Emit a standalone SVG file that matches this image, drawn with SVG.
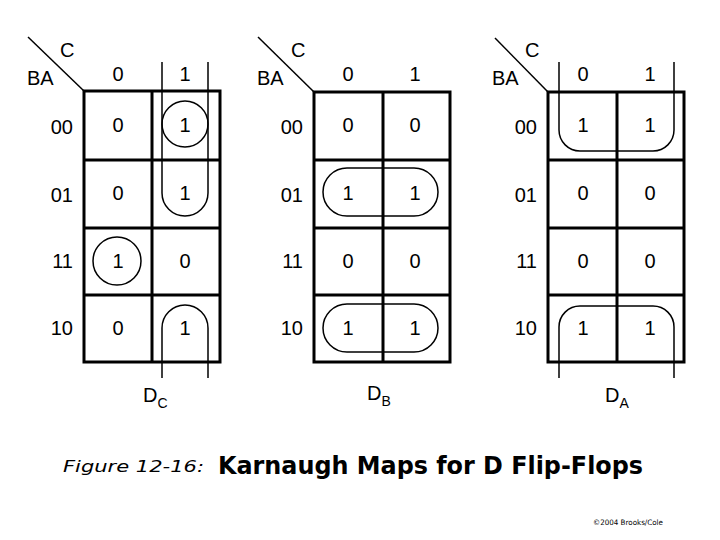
<svg xmlns="http://www.w3.org/2000/svg" width="720" height="540" viewBox="0 0 720 540">
<style>
.t{font-family:"Liberation Sans",Arial,sans-serif;font-size:20px;fill:#000}
.m{text-anchor:middle}
.r{text-anchor:end}
.sub{font-size:14px}
.grid{fill:none;stroke:#000;stroke-width:3}
.loop{fill:none;stroke:#000;stroke-width:1.5}
.diag{stroke:#000;stroke-width:1.5}
</style>
<rect width="720" height="540" fill="#fff"/>

<g id="map-DC">
<line class="diag" x1="28" y1="37" x2="84" y2="91"/>
<text class="t" x="60" y="57">C</text>
<text class="t" x="27" y="85">BA</text>
<text class="t m" x="118" y="81">0</text>
<text class="t m" x="185" y="81">1</text>
<text class="t r" x="73" y="134">00</text>
<text class="t r" x="73" y="202">01</text>
<text class="t r" x="73" y="268">11</text>
<text class="t r" x="73" y="335">10</text>
<rect class="grid" x="84" y="91" width="136" height="271"/>
<line class="grid" x1="152" y1="91" x2="152" y2="362"/>
<line class="grid" x1="84" y1="160" x2="220" y2="160"/>
<line class="grid" x1="84" y1="228" x2="220" y2="228"/>
<line class="grid" x1="84" y1="295" x2="220" y2="295"/>
<text class="t m" x="118" y="132">0</text><text class="t m" x="185" y="132">1</text>
<text class="t m" x="118" y="200">0</text><text class="t m" x="185" y="200">1</text>
<text class="t m" x="118" y="268">1</text><text class="t m" x="185" y="268">0</text>
<text class="t m" x="118" y="335">0</text><text class="t m" x="185" y="335">1</text>
<text class="t" x="143" y="402">D<tspan class="sub" dy="6">C</tspan></text>
</g>

<g id="map-DB">
<line class="diag" x1="258" y1="37" x2="314" y2="92"/>
<text class="t" x="291" y="57">C</text>
<text class="t" x="257" y="85">BA</text>
<text class="t m" x="348" y="81">0</text>
<text class="t m" x="415" y="81">1</text>
<text class="t r" x="303" y="134">00</text>
<text class="t r" x="303" y="202">01</text>
<text class="t r" x="303" y="268">11</text>
<text class="t r" x="303" y="335">10</text>
<rect class="grid" x="314" y="92" width="136" height="270"/>
<line class="grid" x1="383" y1="92" x2="383" y2="362"/>
<line class="grid" x1="314" y1="160" x2="450" y2="160"/>
<line class="grid" x1="314" y1="228" x2="450" y2="228"/>
<line class="grid" x1="314" y1="295" x2="450" y2="295"/>
<text class="t m" x="348" y="132">0</text><text class="t m" x="415" y="132">0</text>
<text class="t m" x="348" y="200">1</text><text class="t m" x="415" y="200">1</text>
<text class="t m" x="348" y="268">0</text><text class="t m" x="415" y="268">0</text>
<text class="t m" x="348" y="335">1</text><text class="t m" x="415" y="335">1</text>
<text class="t" x="367" y="400">D<tspan class="sub" dy="6">B</tspan></text>
</g>

<g id="map-DA">
<line class="diag" x1="495" y1="38" x2="548" y2="92"/>
<text class="t" x="525" y="57">C</text>
<text class="t" x="492" y="85">BA</text>
<text class="t m" x="583" y="81">0</text>
<text class="t m" x="650" y="81">1</text>
<text class="t r" x="537" y="134">00</text>
<text class="t r" x="537" y="202">01</text>
<text class="t r" x="537" y="268">11</text>
<text class="t r" x="537" y="335">10</text>
<rect class="grid" x="548" y="92" width="136" height="270"/>
<line class="grid" x1="617" y1="92" x2="617" y2="362"/>
<line class="grid" x1="548" y1="160" x2="684" y2="160"/>
<line class="grid" x1="548" y1="228" x2="684" y2="228"/>
<line class="grid" x1="548" y1="295" x2="684" y2="295"/>
<text class="t m" x="583" y="132">1</text><text class="t m" x="650" y="132">1</text>
<text class="t m" x="583" y="200">0</text><text class="t m" x="650" y="200">0</text>
<text class="t m" x="583" y="268">0</text><text class="t m" x="650" y="268">0</text>
<text class="t m" x="583" y="335">1</text><text class="t m" x="650" y="335">1</text>
<text class="t" x="605" y="402">D<tspan class="sub" dy="6">A</tspan></text>
</g>

<g id="loops">
<circle class="loop" cx="185" cy="124" r="23"/>
<path class="loop" d="M162,62 V193 A23,23 0 0 0 208,193 V62"/>
<circle class="loop" cx="117" cy="261" r="24"/>
<path class="loop" d="M162,378 V328 A23,23 0 0 1 208,328 V378"/>
<rect class="loop" x="323" y="168" width="115" height="48" rx="24" ry="24"/>
<rect class="loop" x="323" y="304" width="115" height="48" rx="24" ry="24"/>
<path class="loop" d="M559,62 V130 A21,21 0 0 0 580,151 H653 A21,21 0 0 0 674,130 V62"/>
<path class="loop" d="M559,378 V327 A21,21 0 0 1 580,306 H653 A21,21 0 0 1 674,327 V378"/>
</g>

<text x="63" y="472" font-family="'DejaVu Sans',Verdana,sans-serif" font-style="italic" font-size="16" textLength="141" lengthAdjust="spacingAndGlyphs">Figure 12-16:</text>
<text x="218" y="474" font-family="'DejaVu Sans',Verdana,sans-serif" font-weight="bold" font-size="24" textLength="425" lengthAdjust="spacingAndGlyphs">Karnaugh Maps for D Flip-Flops</text>
<text x="593" y="525" font-family="'DejaVu Sans',Verdana,sans-serif" font-size="7.5" textLength="70" lengthAdjust="spacingAndGlyphs">©2004 Brooks/Cole</text>
</svg>
